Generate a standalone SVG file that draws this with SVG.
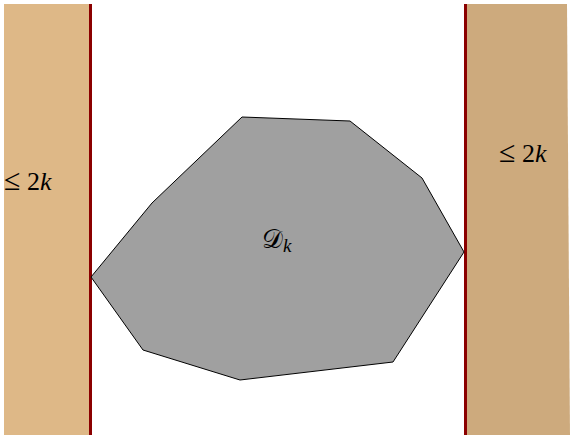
<svg xmlns="http://www.w3.org/2000/svg" width="570" height="435" viewBox="0 0 570 435">
<style>
.lbl{font-family:"Liberation Serif","DejaVu Serif",serif;font-size:26px;fill:#000}
.it{font-style:italic}
.wall{stroke:#8b0000;stroke-width:3}
</style>
<rect x="0" y="0" width="570" height="435" fill="#fff"/>
<g id="left-strip">
<rect x="4" y="4" width="86" height="431" fill="#deb887"/>
<line class="wall" x1="90.5" y1="4" x2="90.5" y2="435"/>
<text class="lbl" x="4" y="190"><tspan font-size="30">≤</tspan> 2<tspan class="it">k</tspan></text>
</g>
<g id="right-strip">
<polygon points="466,4 567,4 570,435 466,435" fill="#cdaa7d"/>
<line class="wall" x1="465.5" y1="4" x2="465.5" y2="435"/>
<text class="lbl" x="499" y="162"><tspan font-size="30">≤</tspan> 2<tspan class="it">k</tspan></text>
</g>
<g id="region-D">
<polygon points="242,117 350,121 422,178 464,252 393,362 240,380 143,350 91,277 152,203" fill="#a0a0a0" stroke="#000" stroke-width="1"/>
<text class="lbl" x="262" y="248" font-size="32">𝒟<tspan class="it" font-size="19" dy="4">k</tspan></text>
</g>
<g id="connectors"/>
</svg>
